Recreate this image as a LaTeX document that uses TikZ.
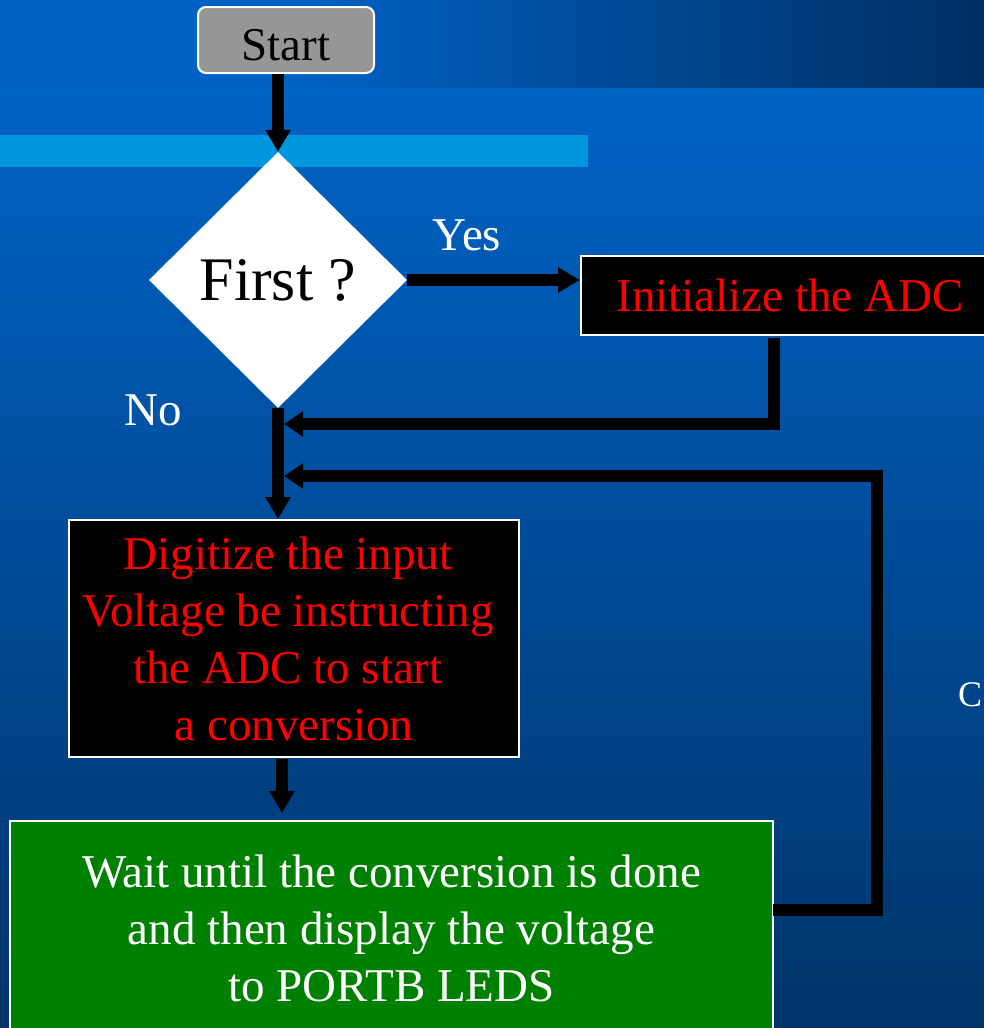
\documentclass[tikz,border=0pt]{standalone}
\usepackage{fontspec}
\setmainfont{Liberation Serif}
\usetikzlibrary{shapes.geometric,arrows.meta}
\definecolor{bandleft}{RGB}{0,98,196}
\definecolor{bandright}{RGB}{0,47,98}
\definecolor{bodytop}{RGB}{0,99,198}
\definecolor{bodybottom}{RGB}{0,52,105}
\definecolor{lightbar}{RGB}{0,150,222}
\definecolor{startgray}{RGB}{150,150,150}
\definecolor{boxgreen}{RGB}{0,128,0}
\newcommand{\trailpad}{\mbox{\hspace{12pt}}}
\tikzset{
  txt/.style={font=\fontsize{47}{57}\selectfont},
  startbox/.style={draw=white, line width=2pt, fill=startgray, rounded corners=8pt, inner sep=0pt, text=black, txt},
  blackbox/.style={draw=white, line width=2pt, fill=black, inner sep=0pt, text=red, align=center, txt},
  greenbox/.style={draw=white, line width=2pt, fill=boxgreen, inner sep=0pt, text=white, align=center, txt},
  decision/.style={diamond, fill=white, inner sep=0pt, text=black, font=\fontsize{62}{70}\selectfont},
  label/.style={text=white, inner sep=0pt},
  flow/.style={draw=black, line width=12pt, line join=miter},
  arrowA/.style={flow, -{Triangle[length=22pt,width=24pt]}},
  arrowB/.style={flow, -{Triangle[length=19pt,width=24pt]}}
}
\begin{document}
\begin{tikzpicture}[x=1pt,y=-1pt]
\useasboundingbox (0,0) rectangle (984,1028);
\clip (0,0) rectangle (984,1028);
% background
\shade[top color=bodytop, bottom color=bodybottom] (0,87) rectangle (984,1028);
\fill[bandleft] (0,0) rectangle (300,87);
\shade[left color=bandleft, right color=bandright] (300,0) rectangle (984,87);
\fill[lightbar] (0,135) rectangle (588,167);

% nodes
\node[startbox, minimum width=176pt, minimum height=66pt, text height=40pt, text depth=0pt] (start) at (286,40) {Start};
\node[decision, minimum width=258pt, minimum height=256pt] (first) at (278,280) {First ?};
\node[blackbox, minimum width=418pt, minimum height=79pt] (init) at (790,295.5) {Initialize the ADC};
\node[blackbox, minimum width=450pt, minimum height=237pt] (digit) at (294,638.5) {Digitize the input\trailpad\\Voltage be instructing\trailpad\\the ADC to start\trailpad\\a conversion};
\node[greenbox, minimum width=763pt, minimum height=214pt] (wait) at (391.5,928) {Wait until the conversion is done\\and then display the voltage\\to PORTB LEDS};

\node[label, txt, anchor=base] (yes) at (467,250) {Yes};
\node[label, txt, anchor=base] (no) at (153,425) {No};
\node[label, anchor=base west, font=\fontsize{36}{40}\selectfont] (cfrag) at (958,706) {C};

% connector coordinates
\coordinate (initout) at (774,338);
\coordinate (merge1) at (284,424);
\coordinate (merge2) at (284,476);
\coordinate (waitout) at (773,910);
\coordinate (loopbottom) at (877,910);
\coordinate (looptop) at (877,476);
\coordinate (digitout) at (282,759);
\coordinate (waitin) at (282,813);

% connectors
\draw[arrowA] (start.south -| first.north) -- (first.north);
\draw[arrowA] (first.east) -- (first.east -| init.west);
\draw[arrowB] (initout) |- (merge1);
\draw[arrowA] (first.south) -- (first.south |- digit.north);
\draw[arrowB] (waitout) -- (loopbottom) -- (looptop) -- (merge2);
\draw[arrowA] (digitout) -- (waitin);
\end{tikzpicture}
\end{document}
